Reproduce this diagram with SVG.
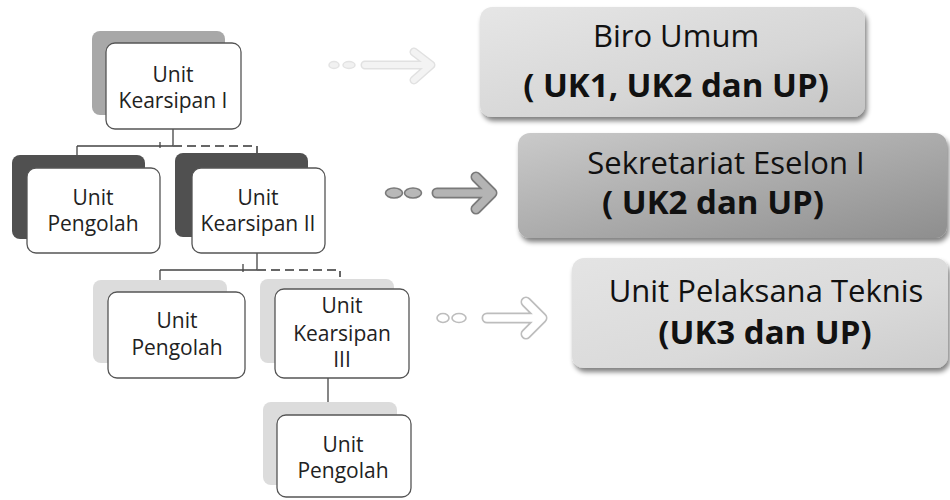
<svg xmlns="http://www.w3.org/2000/svg" width="950" height="500" viewBox="0 0 950 500">
<style>
.box{fill:#fff;stroke:#555;stroke-width:1.3}
.lt{font-family:"Open Sans","Liberation Sans",sans-serif;font-size:21px;fill:#222;text-anchor:middle}
.rt{font-family:"Open Sans","Liberation Sans",sans-serif;font-size:31px;fill:#111;text-anchor:middle}
.rb{font-family:"Open Sans","Liberation Sans",sans-serif;font-size:33px;font-weight:bold;fill:#111;text-anchor:middle}
.solid{fill:none;stroke:#444;stroke-width:1.3}
.dash{fill:none;stroke:#666;stroke-width:2;stroke-dasharray:9,5}
</style>
<defs>
<filter id="ds" x="-10%" y="-10%" width="125%" height="135%">
<feGaussianBlur in="SourceAlpha" stdDeviation="2.5"/>
<feOffset dx="2" dy="4"/>
<feComponentTransfer><feFuncA type="linear" slope="0.5"/></feComponentTransfer>
<feMerge><feMergeNode/><feMergeNode in="SourceGraphic"/></feMerge>
</filter>
<linearGradient id="g1" x1="0" y1="0" x2="1" y2="1">
<stop offset="0" stop-color="#e6e6e6"/><stop offset="0.6" stop-color="#d6d6d6"/><stop offset="1" stop-color="#c4c4c4"/>
</linearGradient>
<linearGradient id="g2" x1="0" y1="0" x2="1" y2="1">
<stop offset="0" stop-color="#cacaca"/><stop offset="0.5" stop-color="#acacac"/><stop offset="1" stop-color="#8e8e8e"/>
</linearGradient>
<linearGradient id="g3" x1="0" y1="0" x2="1" y2="1">
<stop offset="0" stop-color="#e4e4e4"/><stop offset="0.6" stop-color="#dadada"/><stop offset="1" stop-color="#cccccc"/>
</linearGradient>
</defs>
<rect width="950" height="500" fill="#fff"/>

<g id="connectors">
<path class="solid" d="M173,129 V146 M77,146 H173 M77,146 V155 M160,142 V148"/>
<path class="dash" d="M173,146 H257 V153"/>
<path class="solid" d="M257,253 V270 M160,270 H257 M160,270 V281 M243,264 V272"/>
<path class="dash" d="M257,270 H340 V277"/>
<path class="solid" d="M328,378 V402"/>
</g>

<g id="unit-kearsipan-1">
<rect x="92" y="31" width="133" height="84" rx="8" fill="#a8a8a8"/>
<rect class="box" x="106" y="43" width="135" height="86" rx="9"/>
<text class="lt" x="173" y="82">Unit</text>
<text class="lt" x="173" y="108">Kearsipan I</text>
</g>

<g id="unit-pengolah-2">
<rect x="12" y="155" width="133" height="84" rx="8" fill="#505050"/>
<rect class="box" x="27" y="168" width="133" height="85" rx="9"/>
<text class="lt" x="93" y="205">Unit</text>
<text class="lt" x="93" y="231">Pengolah</text>
</g>

<g id="unit-kearsipan-2">
<rect x="175" y="153" width="133" height="84" rx="8" fill="#505050"/>
<rect class="box" x="192" y="168" width="133" height="85" rx="9"/>
<text class="lt" x="258" y="205">Unit</text>
<text class="lt" x="258" y="231">Kearsipan II</text>
</g>

<g id="unit-pengolah-3">
<rect x="93" y="280" width="134" height="83" rx="8" fill="#dcdcdc"/>
<rect class="box" x="108" y="292" width="137" height="86" rx="9"/>
<text class="lt" x="177" y="328">Unit</text>
<text class="lt" x="177" y="355">Pengolah</text>
</g>

<g id="unit-kearsipan-3">
<rect x="260" y="279" width="134" height="84" rx="8" fill="#dcdcdc"/>
<rect class="box" x="275" y="289" width="134" height="89" rx="9"/>
<text class="lt" x="342" y="313">Unit</text>
<text class="lt" x="342" y="341">Kearsipan</text>
<text class="lt" x="342" y="367">III</text>
</g>

<g id="unit-pengolah-4">
<rect x="263" y="402" width="134" height="83" rx="8" fill="#dcdcdc"/>
<rect class="box" x="277" y="415" width="134" height="82" rx="9"/>
<text class="lt" x="343" y="452">Unit</text>
<text class="lt" x="343" y="478">Pengolah</text>
</g>

<g id="arrow-top" opacity="0.9">
<ellipse cx="334" cy="65" rx="5" ry="3.5" fill="#f0f0f0" stroke="#e0e0e0" stroke-width="1.5"/>
<ellipse cx="349" cy="65" rx="6" ry="3.5" fill="#f0f0f0" stroke="#e0e0e0" stroke-width="1.5"/>
<path d="M365,65 H426 M414,52 L431,65 L414,80" fill="none" stroke="#dedede" stroke-width="9" stroke-linecap="round" stroke-linejoin="round"/>
<path d="M365,65 H426 M414,52 L431,65 L414,80" fill="none" stroke="#f2f2f2" stroke-width="6" stroke-linecap="round" stroke-linejoin="round"/>
</g>

<g id="arrow-mid">
<ellipse cx="394" cy="193" rx="8.5" ry="5" fill="#b8b8b8" stroke="#7a7a7a" stroke-width="1.6"/>
<ellipse cx="413" cy="193" rx="8.5" ry="5" fill="#b8b8b8" stroke="#7a7a7a" stroke-width="1.6"/>
<path d="M437,193 H485 M476,177 L492,193 L476,209" fill="none" stroke="#7a7a7a" stroke-width="11" stroke-linecap="round" stroke-linejoin="round"/>
<path d="M437,193 H485 M476,177 L492,193 L476,209" fill="none" stroke="#b4b4b4" stroke-width="7.5" stroke-linecap="round" stroke-linejoin="round"/>
</g>

<g id="arrow-bot">
<ellipse cx="443" cy="318" rx="6" ry="4.5" fill="#fff" stroke="#bdbdbd" stroke-width="1.6"/>
<ellipse cx="459" cy="318" rx="7" ry="4.5" fill="#fff" stroke="#bdbdbd" stroke-width="1.6"/>
<path d="M487,318 H535 M526,302 L542,318 L526,334" fill="none" stroke="#bdbdbd" stroke-width="11" stroke-linecap="round" stroke-linejoin="round"/>
<path d="M487,318 H535 M526,302 L542,318 L526,334" fill="none" stroke="#fff" stroke-width="7.5" stroke-linecap="round" stroke-linejoin="round"/>
</g>

<g id="biro-umum">
<rect x="480" y="7" width="385" height="110" rx="12" fill="url(#g1)" filter="url(#ds)"/>
<text class="rt" x="676" y="47">Biro Umum</text>
<text class="rb" x="676" y="97">( UK1, UK2 dan UP)</text>
</g>

<g id="sekretariat-eselon">
<rect x="518" y="133" width="429" height="105" rx="12" fill="url(#g2)" filter="url(#ds)"/>
<text class="rt" x="726" y="174">Sekretariat Eselon I</text>
<text class="rb" x="713" y="214">( UK2 dan UP)</text>
</g>

<g id="unit-pelaksana">
<rect x="572" y="258" width="376" height="110" rx="12" fill="url(#g3)" filter="url(#ds)"/>
<text class="rt" x="766" y="302">Unit Pelaksana Teknis</text>
<text class="rb" x="765" y="344">(UK3 dan UP)</text>
</g>
</svg>
